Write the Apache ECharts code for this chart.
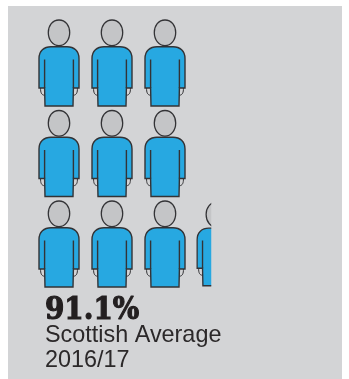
<!DOCTYPE html>
<html>
<head>
<meta charset="utf-8">
<style>html,body{margin:0;padding:0;background:#fff}#chart{width:349px;height:379px}</style>
<script src="https://cdn.jsdelivr.net/npm/echarts@6/dist/echarts.min.js"></script>
</head>
<body>
<div id="chart"></div>
<script>
// Pictogram: one figure per ten percent, the last one cut to its remaining share.
const columns = [0, 1, 2, 0, 1, 2, 0, 1, 2, 3];
const rows = [0, 0, 0, 1, 1, 1, 2, 2, 2, 2];
const shownShare = [1, 1, 1, 1, 1, 1, 1, 1, 1, 0.38];
const headline = '91.1%';
const captionLines = ['Scottish Average', '2016/17'];

const BLUE = '#27a8e1', HEAD = '#c4c5c7', INK = '#333336', PANEL = '#d3d4d6';
const BODY_PATH = 'M-20,25 L-20,-4.5 C-20,-12 -15,-16.3 -8,-16.3 L8,-16.3 C15,-16.3 20,-12 20,-4.5 L20,25 L14.4,25 L14,43 L-14,43 L-14.4,25 Z';
const DETAIL_PATH = 'M-14.4,-3.5 L-14.4,25 M14.4,-3.5 L14.4,25 ';
const HAND_PATH = 'M-18.4,25 C-18.6,29.5 -17.5,32 -14.4,32.3 M18.4,25 C18.6,29.5 17.5,32 14.4,32.3';
const HEAD_PATH = 'M0,-43 C6.5,-43 10.7,-37.5 10.7,-30.5 C10.7,-23 6,-17.4 0,-17.4 C-6,-17.4 -10.7,-23 -10.7,-30.5 C-10.7,-37.5 -6.5,-43 0,-43 Z';

function renderFigure(params, api) {
  const share = api.value(2);
  const partial = share < 1;
  const [cx, cy] = api.coord([api.value(0), api.value(1)]);
  const scale = partial ? 0.97 : 1;
  const path = (d, style) => ({ type: 'path', shape: { pathData: d }, style });
  const group = {
    type: 'group',
    x: cx - (partial ? 1.5 : 0),
    y: cy,
    scaleX: scale,
    scaleY: scale,
    children: [
      path(HEAD_PATH, { fill: HEAD, stroke: INK, lineWidth: 1.3 }),
      path(BODY_PATH, { fill: BLUE, stroke: INK, lineWidth: 1.4 }),
      path(DETAIL_PATH, { fill: 'none', stroke: INK, lineWidth: 1.4 }),
      path(HAND_PATH, { fill: 'none', stroke: INK, lineWidth: 1 })
    ]
  };
  if (partial) {
    group.clipPath = { type: 'rect', shape: { x: -21, y: -45, width: 41 * share, height: 90 } };
  }
  return group;
}

const chart = echarts.init(document.getElementById('chart'), null, { renderer: 'canvas' });
chart.setOption({
  animation: false,
  backgroundColor: '#ffffff',
  grid: { left: 59, top: 63, width: 159, height: 181 },
  xAxis: { type: 'value', min: 0, max: 3, show: false },
  yAxis: { type: 'value', min: 0, max: 2, inverse: true, show: false },
  graphic: [
    { type: 'rect', z: -10, shape: { x: 8, y: 6, width: 334, height: 373 }, style: { fill: PANEL } },
    { type: 'text', x: 45, y: 295, scaleX: 0.87, style: { text: headline, font: 'bold 32px "DejaVu Serif"', fill: '#231f20', stroke: '#231f20', lineWidth: 1.2 } },
    { type: 'text', x: 45, y: 324.5, style: { text: captionLines[0], font: '23.4px "Liberation Sans"', fill: '#2b2829' } },
    { type: 'text', x: 45, y: 349.5, style: { text: captionLines[1], font: '23.4px "Liberation Sans"', fill: '#2b2829' } }
  ],
  series: [{
    type: 'custom',
    coordinateSystem: 'cartesian2d',
    clip: false,
    data: columns.map((c, i) => [c, rows[i], shownShare[i]]),
    renderItem: renderFigure
  }]
});
</script>
</body>
</html>
